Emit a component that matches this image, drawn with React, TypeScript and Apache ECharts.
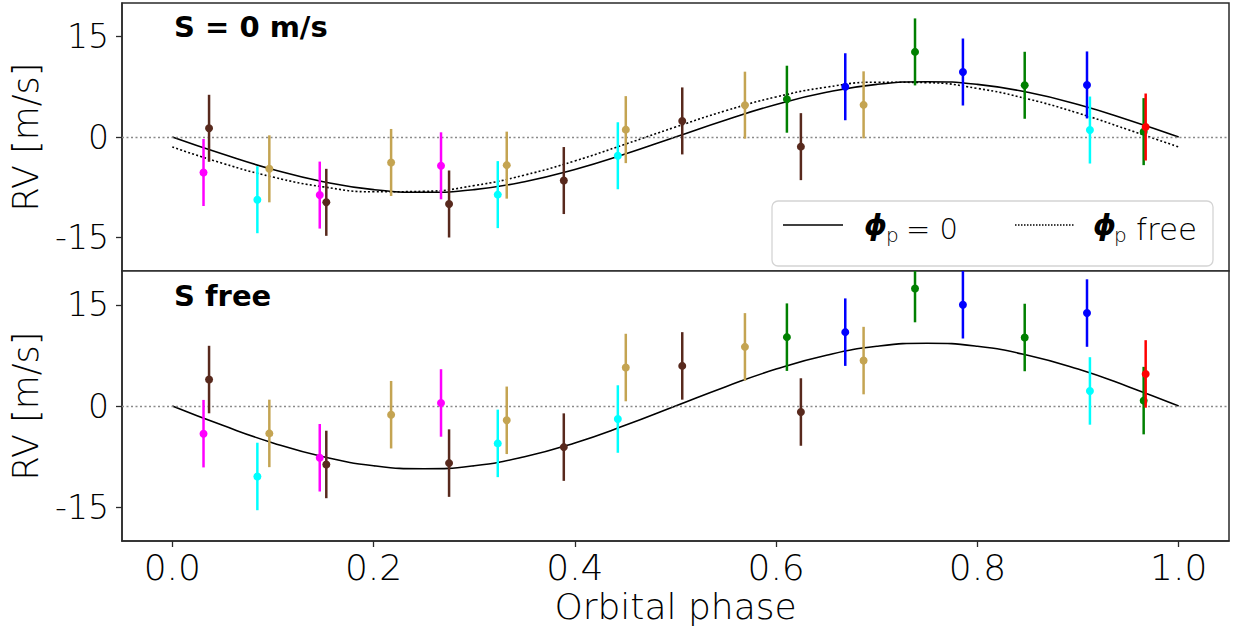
import React, { useEffect, useRef } from "react";
import * as echarts from "echarts";

// ---- data ----
const phase = [0.031, 0.0365, 0.0845, 0.0964, 0.1465, 0.153, 0.2174, 0.267, 0.275, 0.3234, 0.3323, 0.389, 0.4427, 0.4506, 0.5067, 0.569, 0.6107, 0.6246, 0.6687, 0.6869, 0.738, 0.7856, 0.847, 0.9089, 0.9118, 0.9652, 0.9672];
const instrument = ["magenta", "brown", "cyan", "tan", "magenta", "brown", "tan", "magenta", "brown", "cyan", "tan", "brown", "cyan", "tan", "brown", "tan", "green", "brown", "blue", "tan", "green", "blue", "green", "blue", "cyan", "green", "red"];
const rvS0 = [-5.3, 1.3, -9.36, -4.75, -8.67, -9.75, -3.8, -4.3, -10.0, -8.6, -4.2, -6.5, -2.8, 1.1, 2.4, 4.75, 5.64, -1.44, 7.5, 4.8, 12.7, 9.7, 7.72, 7.77, 1.04, 0.8, 1.49];
const rvSfree = [-4.1, 3.92, -10.44, -4.06, -7.67, -8.66, -1.29, 0.45, -8.46, -5.54, -2.12, -6.09, -1.93, 5.7, 5.94, 8.76, 10.2, -0.89, 10.94, 6.73, 17.4, 15.0, 10.15, 13.77, 2.23, 0.8, 4.75];
const rvErr = [5.0, 5.0, 5.0, 5.0, 5.0, 5.0, 5.0, 5.0, 5.0, 5.0, 5.0, 5.0, 5.0, 5.0, 5.0, 5.0, 5.0, 5.0, 5.0, 5.0, 5.0, 5.0, 5.0, 5.0, 5.0, 5.0, 5.0];

const modelPhase = [0, 0.05, 0.1, 0.15, 0.2, 0.25, 0.3, 0.35, 0.4, 0.45, 0.5, 0.55, 0.6, 0.65, 0.7, 0.75, 0.8, 0.85, 0.9, 0.95, 1.0];
const modelS0Fixed = [0, -2.55, -4.85, -6.67, -7.85, -8.25, -7.85, -6.67, -4.85, -2.55, 0, 2.55, 4.85, 6.67, 7.85, 8.25, 7.85, 6.67, 4.85, 2.55, 0];
const modelS0Free = [-1.49, -3.93, -5.98, -7.44, -8.18, -8.11, -7.25, -5.68, -3.57, -1.08, 1.49, 3.93, 5.98, 7.44, 8.18, 8.11, 7.25, 5.68, 3.57, 1.08, -1.49];
const modelSfree = [0, -2.87, -5.47, -7.52, -8.84, -9.3, -8.84, -7.52, -5.47, -2.87, 0, 2.87, 5.47, 7.52, 8.84, 9.3, 8.84, 7.52, 5.47, 2.87, 0];

const xTicks = [0, 0.2, 0.4, 0.6, 0.8, 1.0];
const yTicks = [-15, 0, 15];
const panelTitles = ["S = 0 m/s", "S free"];

const palette: Record<string, string> = {
  magenta: "#ff00ff",
  cyan: "#00ffff",
  tan: "#c4a452",
  brown: "#58291d",
  green: "#008000",
  blue: "#0000ff",
  red: "#ff0000",
};

const Y_MIN = -20;
const Y_MAX = 20;
const FONT = "'DejaVu Sans ExtraLight', 'DejaVu Sans', sans-serif";
const BOLD_FONT = "'DejaVu Sans', sans-serif";

export default function App() {
  const ref = useRef<HTMLDivElement>(null);

  useEffect(() => {
    if (!ref.current) return;
    const chart = echarts.init(ref.current, null, { renderer: "svg" });

    const grids = [
      { left: 122, top: 3, width: 1107, height: 268 },
      { left: 122, top: 271, width: 1107, height: 270 },
    ].map((g) => ({ ...g, show: true, borderColor: "#2a2a2a", borderWidth: 1.5, backgroundColor: "#fff" }));

    const xAxes = [0, 1].map((i) => ({
      type: "value",
      gridIndex: i,
      min: -0.05,
      max: 1.05,
      splitLine: { show: false },
      axisLine: { show: i === 1, onZero: false, lineStyle: { color: "#2a2a2a", width: 1.5 } },
      axisTick: i === 1
        ? { show: true, customValues: xTicks, length: 6, inside: false, lineStyle: { color: "#2a2a2a", width: 1.3 } }
        : { show: false },
      axisLabel: i === 1
        ? {
            show: true,
            customValues: xTicks,
            formatter: (v: number) => v.toFixed(1),
            fontFamily: FONT,
            fontWeight: 200,
            fontSize: 36,
            color: "#000",
            margin: 8,
          }
        : { show: false },
      name: i === 1 ? "Orbital phase" : "",
      nameLocation: "middle",
      nameGap: 47,
      nameTextStyle: { fontFamily: FONT, fontWeight: 200, fontSize: 36, color: "#000" },
    }));

    const yAxes = [0, 1].map((i) => ({
      type: "value",
      gridIndex: i,
      min: Y_MIN,
      max: Y_MAX,
      splitLine: { show: false },
      axisLine: { show: true, onZero: false, lineStyle: { color: "#2a2a2a", width: 1.5 } },
      axisTick: { show: true, customValues: yTicks, length: 6, inside: false, lineStyle: { color: "#2a2a2a", width: 1.3 } },
      axisLabel: {
        show: true,
        customValues: yTicks,
        formatter: (v: number) => String(v),
        fontFamily: FONT,
        fontWeight: 200,
        fontSize: 33,
        color: "#000",
        margin: 13,
      },
      name: "RV [m/s]",
      nameLocation: "middle",
      nameGap: 79,
      nameTextStyle: { fontFamily: FONT, fontWeight: 200, fontSize: 35, color: "#000" },
    }));

    const errSeries = (idx: number, rv: number[]) => ({
      type: "custom",
      xAxisIndex: idx,
      yAxisIndex: idx,
      z: 5,
      data: phase.map((p, i) => [p, rv[i], rvErr[i]]),
      renderItem: (params: any, api: any) => {
        const x = api.value(0);
        const y = api.value(1);
        const e = api.value(2);
        const c = palette[instrument[params.dataIndex]];
        const top = api.coord([x, Math.min(y + e, Y_MAX)]);
        const bot = api.coord([x, Math.max(y - e, Y_MIN)]);
        const ctr = api.coord([x, y]);
        return {
          type: "group",
          children: [
            { type: "line", shape: { x1: top[0], y1: top[1], x2: bot[0], y2: bot[1] }, style: { stroke: c, lineWidth: 2.5 } },
            { type: "circle", shape: { cx: ctr[0], cy: ctr[1], r: 4 }, style: { fill: c } },
          ],
        };
      },
    });

    const zeroLine = (idx: number) => ({
      type: "line",
      xAxisIndex: idx,
      yAxisIndex: idx,
      data: [],
      silent: true,
      markLine: {
        symbol: "none",
        silent: true,
        label: { show: false },
        lineStyle: { type: [2, 2.5], color: "#8a8a8a", width: 1.3 },
        data: [{ yAxis: 0 }],
      },
    });

    const modelLine = (idx: number, ys: number[], dashed: boolean) => ({
      type: "line",
      xAxisIndex: idx,
      yAxisIndex: idx,
      smooth: true,
      showSymbol: false,
      symbol: "none",
      z: 3,
      data: modelPhase.map((p, i) => [p, ys[i]]),
      lineStyle: { color: "#000", width: 1.6, type: dashed ? [2, 2.2] : "solid" },
    });

    const legendX = 772;
    const legendY = 201;

    chart.setOption({
      animation: false,
      backgroundColor: "#fff",
      grid: grids,
      xAxis: xAxes,
      yAxis: yAxes,
      series: [
        zeroLine(0),
        zeroLine(1),
        modelLine(0, modelS0Fixed, false),
        modelLine(0, modelS0Free, true),
        modelLine(1, modelSfree, false),
        errSeries(0, rvS0),
        errSeries(1, rvSfree),
      ],
      graphic: [
        {
          type: "text",
          left: 174,
          top: 12,
          z: 20,
          style: { text: panelTitles[0], font: `bold 29px ${BOLD_FONT}`, fill: "#000" },
        },
        {
          type: "text",
          left: 174,
          top: 281,
          z: 20,
          style: { text: panelTitles[1], font: `bold 29px ${BOLD_FONT}`, fill: "#000" },
        },
        {
          type: "group",
          z: 30,
          children: [
            {
              type: "rect",
              shape: { x: legendX, y: legendY, width: 441, height: 65, r: 6 },
              style: { fill: "rgba(255,255,255,0.85)", stroke: "#d4d4d4", lineWidth: 1.3 },
            },
            { type: "line", shape: { x1: 783, y1: 225, x2: 843, y2: 225 }, style: { stroke: "#000", lineWidth: 1.6 } },
            { type: "line", shape: { x1: 1015, y1: 225, x2: 1075, y2: 225 }, style: { stroke: "#000", lineWidth: 1.6, lineDash: [1.5, 1.5] } },
            { type: "text", x: 864, y: 239, style: { text: "ϕ", font: `italic bold 29px ${BOLD_FONT}`, fill: "#000", verticalAlign: "bottom" } },
            { type: "text", x: 886, y: 245, style: { text: "p", font: `200 20px ${FONT}`, fill: "#000", verticalAlign: "bottom" } },
            { type: "text", x: 906, y: 243, style: { text: "= 0", font: `200 29px ${FONT}`, fill: "#000", verticalAlign: "bottom" } },
            { type: "text", x: 1093, y: 239, style: { text: "ϕ", font: `italic bold 29px ${BOLD_FONT}`, fill: "#000", verticalAlign: "bottom" } },
            { type: "text", x: 1114, y: 245, style: { text: "p", font: `200 20px ${FONT}`, fill: "#000", verticalAlign: "bottom" } },
            { type: "text", x: 1136, y: 244, style: { text: "free", font: `200 31px ${FONT}`, fill: "#000", verticalAlign: "bottom" } },
          ],
        },
      ],
    });

    return () => chart.dispose();
  }, []);

  return (
    <div
      ref={ref}
      style={{ position: "absolute", left: 0, top: 0, width: 1235, height: 635, background: "#fff" }}
    />
  );
}
